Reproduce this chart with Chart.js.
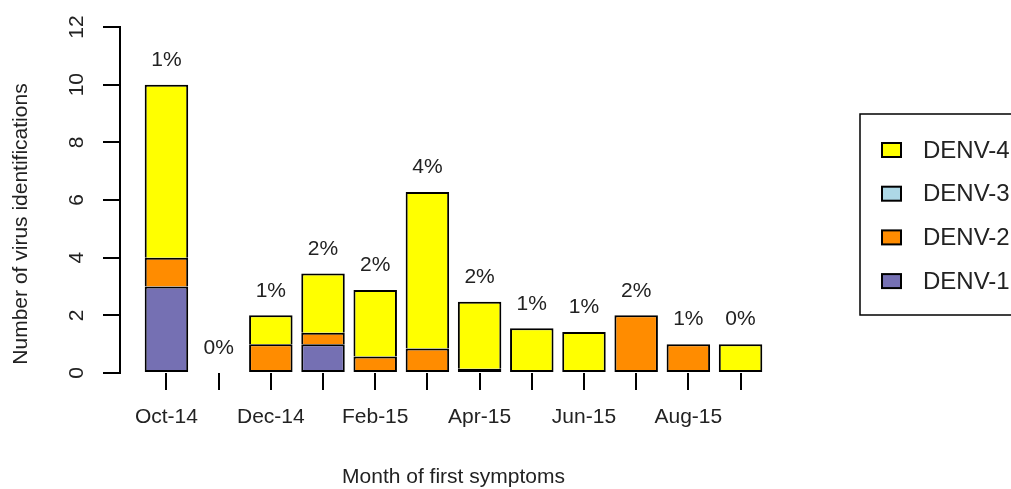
<!DOCTYPE html>
<html>
<head>
<meta charset="utf-8">
<script src="https://cdn.jsdelivr.net/npm/chart.js@4/dist/chart.umd.min.js"></script>
<style>
  html, body { margin: 0; padding: 0; background: #fff; }
  #wrap { width: 1011px; height: 489px; }
</style>
</head>
<body>
<div id="wrap"><canvas id="dengue-chart" width="1011" height="489"></canvas></div>
<script>
// months of first symptoms, one bar each
const months = ['Oct-14', 'Nov-14', 'Dec-14', 'Jan-15', 'Feb-15', 'Mar-15', 'Apr-15', 'May-15', 'Jun-15', 'Jul-15', 'Aug-15', 'Sep-15'];
// only every other month gets a tick label
const tickLabels = ['Oct-14', '', 'Dec-14', '', 'Feb-15', '', 'Apr-15', '', 'Jun-15', '', 'Aug-15', ''];

const denv1 = [3, 0, 0, 1, 0, 0, 0, 0, 0, 0, 0, 0];
const denv2 = [1, 0, 1, 0.4, 0.57, 0.85, 0.15, 0, 0, 2, 1, 0];
const denv3 = [0, 0, 0, 0, 0, 0, 0, 0, 0, 0, 0, 0];
const denv4 = [6, 0, 1, 2.05, 2.31, 5.43, 2.32, 1.55, 1.42, 0, 0, 1];

// percentage printed above each bar
const pctLabels = ['1%', '0%', '1%', '2%', '2%', '4%', '2%', '1%', '1%', '2%', '1%', '0%'];

const yTicks = [0, 2, 4, 6, 8, 10, 12];

const FONT = '"Liberation Sans", Arial, sans-serif';
const TEXT = '#222';

// barplot style positions: width 1, space 0.2
const barPos = months.map((_, i) => 0.7 + i * 1.2);
const toPoints = arr => arr.map((v, i) => ({ x: barPos[i], y: v }));

const seriesDefs = [
    { label: 'DENV-1', data: denv1, color: '#7570B3' },
    { label: 'DENV-2', data: denv2, color: '#FF8C00' },
    { label: 'DENV-3', data: denv3, color: '#ADD8E6' },
    { label: 'DENV-4', data: denv4, color: '#FFFF00' }
];

const totals = months.map((_, i) => seriesDefs.reduce((s, d) => s + d.data[i], 0));

// only the lowest visible segment of a stack draws its bottom edge,
// so shared edges stay one line thick
const segBorder = c => {
    const i = c.dataIndex;
    let below = 0;
    for (let k = 0; k < c.datasetIndex; k++) below += seriesDefs[k].data[i];
    return { top: 2, left: 2, right: 2, bottom: below > 0 ? 0 : 2 };
};

const extrasPlugin = {
    id: 'extras',
    afterDraw(chart) {
        const ctx = chart.ctx;
        const xs = chart.scales.x;
        const ys = chart.scales.y;
        ctx.save();
        ctx.fillStyle = TEXT;
        ctx.font = '21px ' + FONT;
        ctx.textAlign = 'center';
        ctx.textBaseline = 'middle';

        // y tick labels, rotated like R
        ys.ticks.forEach(t => {
            ctx.save();
            ctx.translate(77, ys.getPixelForValue(t.value));
            ctx.rotate(-Math.PI / 2);
            ctx.fillText(String(t.value), 0, 0);
            ctx.restore();
        });

        // y title
        ctx.save();
        ctx.translate(21, 224);
        ctx.rotate(-Math.PI / 2);
        ctx.fillText('Number of virus identifications', 0, 0);
        ctx.restore();

        // x title
        ctx.fillText('Month of first symptoms', (chart.chartArea.left + chart.chartArea.right) / 2, 477);

        // percentages above bars
        totals.forEach((tot, i) => {
            ctx.fillText(pctLabels[i], xs.getPixelForValue(barPos[i]), ys.getPixelForValue(tot + 0.85));
        });

        // legend box on the right, clipped by the canvas edge
        ctx.strokeStyle = '#000';
        ctx.lineWidth = 1.5;
        ctx.strokeRect(860, 114, 170, 201);
        ctx.font = '24px ' + FONT;
        ctx.textAlign = 'left';
        const items = chart.data.datasets.slice().reverse();
        items.forEach((ds, k) => {
            const cy = 150 + k * 43.7;
            ctx.fillStyle = ds.backgroundColor;
            ctx.fillRect(882, cy - 7, 19, 14);
            ctx.strokeStyle = '#000';
            ctx.lineWidth = 2;
            ctx.strokeRect(882, cy - 7, 19, 14);
            ctx.fillStyle = TEXT;
            ctx.fillText(ds.label, 923, cy + 1);
        });
        ctx.restore();
    }
};

const ctx = document.getElementById('dengue-chart').getContext('2d');
const dengueChart = new Chart(ctx, {
    type: 'bar',
    data: {
        datasets: seriesDefs.map(s => ({
            label: s.label,
            data: toPoints(s.data),
            backgroundColor: s.color,
            borderColor: '#000',
            borderWidth: segBorder,
            borderSkipped: false,
            categoryPercentage: 1,
            barPercentage: 1 / 1.2
        }))
    },
    options: {
        responsive: false,
        animation: false,
        devicePixelRatio: 1,
        layout: { padding: { left: 103, right: 224, top: 27, bottom: 46 } },
        plugins: {
            legend: { display: false },
            tooltip: { enabled: false }
        },
        scales: {
            x: {
                type: 'linear',
                stacked: true,
                offset: false,
                min: -0.368,
                max: 14.968,
                afterBuildTicks: scale => {
                    scale.ticks = barPos.map(v => ({ value: v }));
                },
                afterFit: scale => {
                    scale.height = 70;
                    scale.paddingLeft = 0;
                    scale.paddingRight = 0;
                },
                border: { display: false },
                grid: {
                    offset: false,
                    drawOnChartArea: false,
                    drawTicks: true,
                    tickLength: 17,
                    color: '#000',
                    lineWidth: 2
                },
                ticks: {
                    autoSkip: false,
                    maxRotation: 0,
                    minRotation: 0,
                    padding: 15,
                    color: TEXT,
                    font: { family: FONT, size: 21 },
                    callback: (value, index) => tickLabels[index]
                }
            },
            y: {
                stacked: true,
                min: 0,
                max: 12,
                afterBuildTicks: scale => {
                    scale.ticks = yTicks.map(v => ({ value: v }));
                },
                afterFit: scale => { scale.width = 17; },
                border: { display: true, color: '#000', width: 2 },
                grid: {
                    drawOnChartArea: false,
                    drawTicks: true,
                    tickLength: 17,
                    color: '#000',
                    lineWidth: 2
                },
                ticks: { display: false }
            }
        }
    },
    plugins: [extrasPlugin]
});
</script>
</body>
</html>
